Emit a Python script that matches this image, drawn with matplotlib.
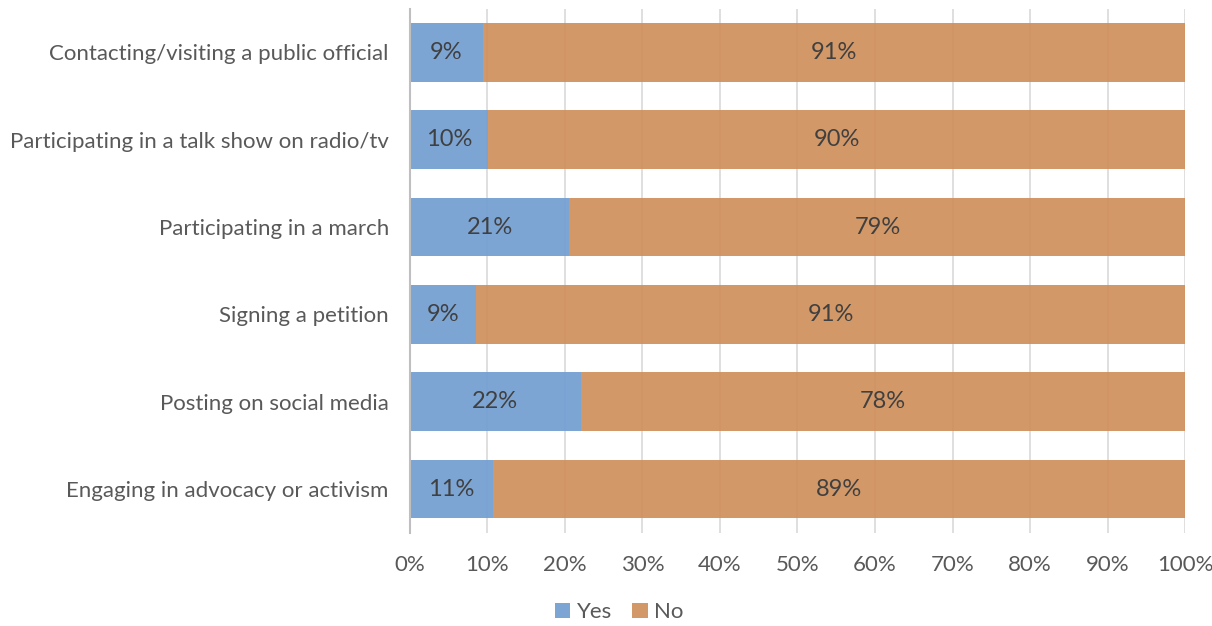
import matplotlib.pyplot as plt
import numpy as np

plt.rcParams['font.family'] = ['Lato', 'DejaVu Sans']

categories = [
    "Contacting/visiting a public official",
    "Participating in a talk show on radio/tv",
    "Participating in a march",
    "Signing a petition",
    "Posting on social media",
    "Engaging in advocacy or activism",
]
yes = np.array([9.4, 10.1, 20.6, 8.6, 22.1, 10.7])
no = 100.0 - yes
yes_labels = ["9%", "10%", "21%", "9%", "22%", "11%"]
no_labels = ["91%", "90%", "79%", "91%", "78%", "89%"]

text_col = "#595959"

fig = plt.figure(figsize=(12.12, 6.26), dpi=100)
ax = fig.add_axes([0.338, 0.149, 0.64, 0.837])

pos = np.arange(len(categories))
b1 = ax.barh(pos, yes, height=0.67, color="#729dd1", alpha=0.92, label="Yes", zorder=2)
b2 = ax.barh(pos, no, left=yes, height=0.67, color="#d08f5b", alpha=0.92, label="No", zorder=2)

ax.bar_label(b1, labels=yes_labels, label_type="center", color="#404040", fontsize=17)
ax.bar_label(b2, labels=no_labels, label_type="center", color="#404040", fontsize=17)

ax.set_ylim(len(categories) - 0.5, -0.5)
ax.set_xlim(0, 100)
ax.set_yticks(pos)
ax.set_yticklabels(categories, fontsize=16, color=text_col)
ax.set_xticks(np.arange(0, 101, 10))
ax.set_xticklabels([f"{v}%" for v in range(0, 101, 10)], fontsize=16, color=text_col)
ax.tick_params(axis="y", length=0, pad=15)
ax.tick_params(axis="x", length=0, pad=16)
ax.grid(axis="x", color="#d9d9d9", linewidth=1.2, zorder=0)
for s in ["top", "right", "bottom"]:
    ax.spines[s].set_visible(False)
ax.spines["left"].set_color("#bfbfbf")
ax.spines["left"].set_linewidth(1.5)

fig.legend(loc="lower center", bbox_to_anchor=(0.511, -0.026), ncol=2, frameon=False,
           fontsize=16, handlelength=0.7, handleheight=0.7, handletextpad=0.3,
           columnspacing=0.9, labelcolor=text_col)

plt.savefig("out.png", dpi=100)
